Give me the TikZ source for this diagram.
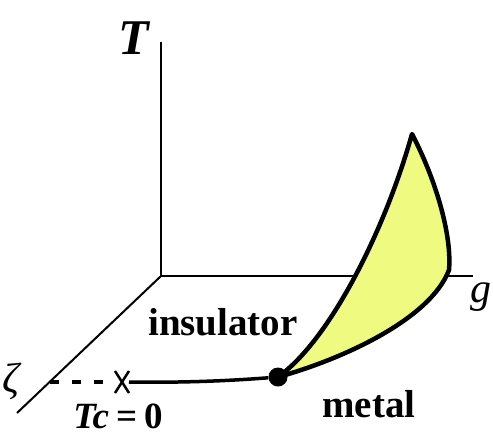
\documentclass[tikz,border=0pt]{standalone}
\usepackage{fontspec}
\setmainfont{Liberation Serif}
\usepackage{tikz}

\definecolor{fillyellow}{RGB}{238,250,128}

\tikzset{
  axis/.style={line width=2pt},
  lbl/.style={inner sep=0pt, anchor=base, font=\fontsize{39}{40}\selectfont\bfseries},
  crit/.style={line width=3.5pt}
}

\begin{document}
\begin{tikzpicture}[x=1pt,y=-1pt]
\useasboundingbox (0,0) rectangle (493,440); % khung
% axes
\coordinate (O) at (161,276);
\coordinate (Ttop) at (161,42);
\coordinate (gEnd) at (473,276);
\coordinate (zEnd) at (17,413);
\draw[axis] (Ttop) -- (O) -- (gEnd);
\draw[axis] (O) -- (zEnd);
\node[inner sep=0pt, anchor=base, font=\fontsize{50}{52}\selectfont\bfseries\itshape] (Tlab) at (134,54) {T};
\node[inner sep=0pt, anchor=base, font=\fontsize{42}{44}\selectfont\itshape] (glab) at (481,302) {g};
\node[inner sep=0pt, font=\fontsize{42}{44}\selectfont\itshape] (zlab) at (11,381) {ζ};
% yellow sheet
\coordinate (tip) at (412,134);
\coordinate (corner) at (449,270);
\filldraw[fill=fillyellow, line width=4.5pt, line join=round]
  (278,377) .. controls (330,340) and (385,230) .. (tip)
  .. controls (436,180) and (452,235) .. (corner)
  .. controls (430,320) and (340,360) .. (278,377) -- cycle;
% critical line
\coordinate (dashL) at (50,382);
\coordinate (cross) at (122,382);
\draw[crit, dash pattern=on 9pt off 13pt] (dashL) -- (110,382);
\draw[line width=2.5pt] (cross) ++(-7,-11) -- ++(14,22) (cross) ++(7,-11) -- ++(-14,22);
\node[circle, fill=black, inner sep=0pt, minimum size=19pt] (qcp) at (278,377) {};
\draw[crit] (129,382) .. controls (190,383) and (240,380) .. (qcp);
% labels
\node[lbl] (ins) at (223,335) {insulator};
\node[lbl] (met) at (369,417) {metal};
\node[lbl, font=\fontsize{37}{40}\selectfont\bfseries] (tc) at (118,428) {\textit{Tc}\kern7pt=\kern7pt0};
\end{tikzpicture}
\end{document}
